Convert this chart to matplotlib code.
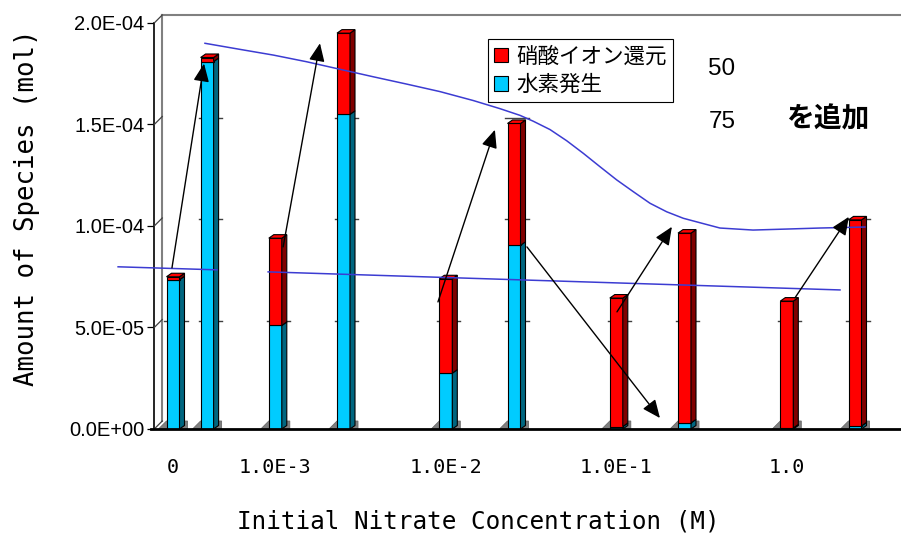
import matplotlib.pyplot as plt
from matplotlib.patches import Rectangle, Polygon, Patch

# categories (initial nitrate concentration) and where they sit on the slot axis
categories = ['0', '1.0E-3', '1.0E-2', '1.0E-1', '1.0']
slot_50 = [0, 3, 8, 13, 18]
slot_75 = [1, 5, 10, 15, 20]

# amounts (mol): hydrogen evolution (blue) and nitrate reduction (red)
h2_50 = [7.35e-5, 5.1e-5, 2.75e-5, 0.12e-5, 0.05e-5]
no3_50 = [0.15e-5, 4.3e-5, 4.65e-5, 6.33e-5, 6.25e-5]
h2_75 = [1.81e-4, 1.55e-4, 9.05e-5, 0.3e-5, 0.15e-5]
no3_75 = [0.2e-5, 4.0e-5, 6.0e-5, 9.35e-5, 1.015e-4]

# hand-drawn trend lines (slot, mol)
upper_x = [0.938, 1.965, 2.941, 3.921, 4.897, 5.874, 6.853, 7.83, 8.806, 9.589, 10.176, 10.566, 11.056,
           11.545, 12.032, 12.522, 13.012, 13.499, 13.988, 14.478, 14.965, 15.455, 16.04, 17.01, 18.01,
           18.97, 20.29]
upper_y = [1.900e-4, 1.870e-4, 1.842e-4, 1.809e-4, 1.772e-4, 1.735e-4, 1.699e-4, 1.662e-4, 1.618e-4,
           1.578e-4, 1.545e-4, 1.516e-4, 1.475e-4, 1.420e-4, 1.358e-4, 1.292e-4, 1.227e-4, 1.169e-4,
           1.112e-4, 1.070e-4, 1.038e-4, 1.016e-4, 9.90e-5, 9.80e-5, 9.85e-5, 9.90e-5, 9.95e-5]
lowA_x = [-1.61, 1.29]
lowA_y = [7.99e-5, 7.84e-5]
lowB_x = [2.79, 11.06, 19.56]
lowB_y = [7.74e-5, 7.3e-5, 6.85e-5]

# arrows: (start slot, start mol, end slot, end mol)
arrows = [
    (-0.03, 7.94e-5, 0.91, 1.80e-4),
    (3.23, 8.97e-5, 4.31, 1.90e-4),
    (7.77, 6.26e-5, 9.44, 1.474e-4),
    (10.38, 8.97e-5, 14.28, 0.54e-5),
    (13.02, 5.77e-5, 14.63, 9.96e-5),
    (18.24, 6.46e-5, 19.82, 1.045e-4),
]

yticks = [0, 5e-5, 1e-4, 1.5e-4, 2e-4]
ytick_labels = ['0.0E+00', '5.0E-05', '1.0E-04', '1.5E-04', '2.0E-04']

PX = 34.1          # pixels per slot
PY = 4.926e-7      # mol per pixel
W = 13 / PX
DX = 5 / PX
DY = 3.5 * PY
WDX = 8 / PX       # depth of the back wall
WDY = 8 * PY

RED, RED_SIDE = '#ff0000', '#800000'
BLUE, BLUE_SIDE = '#00ccff', '#006680'
LINE = '#3c3cd2'

fig = plt.figure(figsize=(9.01, 5.36), dpi=100)
x_left = -0.55
x_right = (900 - 173) / PX
ax = fig.add_axes([(173 + x_left * PX) / 901, 107 / 536, (x_right - x_left) * PX / 901, 414 / 536])
ax.set_xlim(x_left, x_right)
ax.set_ylim(0, 414 * PY)
for s in ax.spines.values():
    s.set_visible(False)

# back wall and floor
top = 414 * PY
ax.plot([x_left + WDX, x_left + WDX], [WDY, top], color='#808080', lw=1.5, clip_on=False)
ax.plot([x_left + WDX, x_right + 0.1], [top, top], color='#808080', lw=1.5, clip_on=False)
ax.plot([x_left, x_left], [0, 2e-4], color='black', lw=1.2, clip_on=False)
ax.plot([x_left - 0.1, x_right + 0.1], [0, 0], color='black', lw=2, clip_on=False, zorder=6)
for v in yticks:
    ax.plot([x_left, x_left + WDX], [v, v + WDY], color='#404040', lw=0.9, clip_on=False)


def draw_bar(x, h2, no3):
    x0 = x - W / 2
    total = h2 + no3
    # floor slab
    sl = x0 - 8 / PX
    sr = x0 + W + DX + 3 / PX
    ax.add_patch(Polygon([(sl, 0), (sl + WDX, WDY), (sr, WDY), (sr, 0)], closed=True,
                         facecolor='#808080', edgecolor='#6a6a6a', lw=0.6, zorder=2))
    # back wall gridline marks beside the bar
    for v in yticks[1:]:
        if total > v:
            ax.plot([x0 - 0.06, x0 + W + 0.24], [v + 6.5 * PY, v + 6.5 * PY], color='#404040', lw=1, zorder=2)
    segs = [(0, h2, BLUE, BLUE_SIDE), (h2, total, RED, RED_SIDE)]
    for b, t, fc, sc in segs:
        ax.add_patch(Rectangle((x0, b), W, t - b, facecolor=fc, edgecolor='black', lw=0.8, zorder=3))
        ax.add_patch(Polygon([(x0 + W, b), (x0 + W + DX, b + DY), (x0 + W + DX, t + DY), (x0 + W, t)],
                             closed=True, facecolor=sc, edgecolor='black', lw=0.8, zorder=3))
    ax.add_patch(Polygon([(x0, total), (x0 + DX, total + DY), (x0 + W + DX, total + DY), (x0 + W, total)],
                         closed=True, facecolor=RED, edgecolor='black', lw=0.8, zorder=3))


for i in range(len(categories)):
    draw_bar(slot_50[i], h2_50[i], no3_50[i])
    draw_bar(slot_75[i], h2_75[i], no3_75[i])

ax.plot(upper_x, upper_y, color=LINE, lw=1.1, zorder=5, clip_on=False)
ax.plot(lowA_x, lowA_y, color=LINE, lw=1.1, zorder=5, clip_on=False)
ax.plot(lowB_x, lowB_y, color=LINE, lw=1.1, zorder=5, clip_on=False)

for x1, y1, x2, y2 in arrows:
    ax.annotate('', xy=(x2, y2), xytext=(x1, y1), annotation_clip=False, zorder=7,
                arrowprops=dict(arrowstyle='-|>,head_length=0.55,head_width=0.24', mutation_scale=20,
                                color='black', lw=1, shrinkA=0, shrinkB=0))

ax.set_yticks(yticks)
ax.set_yticklabels(ytick_labels, fontfamily='Liberation Sans', fontsize=14.5)
ax.tick_params(axis='y', length=5, width=0.9, pad=2)
ax.set_xticks(slot_50)
ax.set_xticklabels(categories, fontfamily='DejaVu Sans Mono', fontsize=14.5)
ax.tick_params(axis='x', length=0, pad=21)

fig.text(478 / 901, 1 - 522 / 536, 'Initial Nitrate Concentration (M)', fontfamily='DejaVu Sans Mono',
         fontsize=17.5, ha='center', va='center')
fig.text(27 / 901, 1 - 208 / 536, 'Amount of Species (mol)', fontfamily='DejaVu Sans Mono',
         fontsize=18.5, ha='center', va='center', rotation=90)

fig.text(722 / 901, 1 - 69 / 536, '50', fontfamily='Liberation Sans', fontsize=17.5, ha='center', va='center')
fig.text(722 / 901, 1 - 122 / 536, '75', fontfamily='Liberation Sans', fontsize=17.5, ha='center', va='center')
fig.text(828 / 901, 1 - 119 / 536, 'を追加', fontfamily='Noto Sans CJK JP', fontweight='bold',
         fontsize=20, ha='center', va='center')

handles = [Patch(facecolor=RED, edgecolor='black', lw=0.8), Patch(facecolor=BLUE, edgecolor='black', lw=0.8)]
leg = ax.legend(handles, ['硝酸イオン還元', '水素発生'], loc='upper left',
                bbox_to_anchor=(488 / 901, 1 - 39 / 536), bbox_transform=fig.transFigure,
                prop={'family': 'Noto Sans CJK JP', 'size': 15.5}, frameon=True, fancybox=False,
                edgecolor='black', framealpha=1, handlelength=0.65, handleheight=0.65, handletextpad=0.35,
                labelspacing=0.3, borderpad=0.3, borderaxespad=0)
leg.get_frame().set_linewidth(0.8)
leg.set_zorder(8)

fig.savefig('out.png', dpi=100)
